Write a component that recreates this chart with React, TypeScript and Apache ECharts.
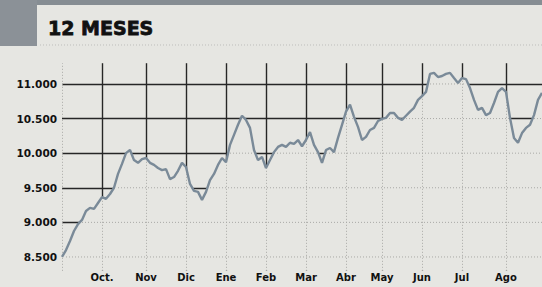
import React, { useEffect, useRef } from "react";
import * as echarts from "echarts";

// Index level, sampled every few sessions, one array per month
const sep = [8500, 8600, 8730, 8875, 8975, 9035, 9165, 9210, 9195, 9280];
const oct = [9365, 9340, 9410, 9500, 9700, 9845, 10000, 10045, 9900, 9860, 9915];
const nov = [9930, 9860, 9830, 9785, 9755, 9770, 9625, 9655, 9745, 9860];
const dic = [9800, 9555, 9455, 9440, 9325, 9440, 9610, 9700, 9830, 9930];
const ene = [9870, 10120, 10265, 10410, 10540, 10480, 10365, 10045, 9900, 9945];
const feb = [9785, 9900, 10015, 10090, 10120, 10090, 10150, 10135, 10190, 10100];
const mar = [10190, 10305, 10120, 10015, 9860, 10045, 10075, 10015, 10220, 10410];
const abr = [10600, 10700, 10525, 10380, 10190, 10235, 10335, 10365, 10465];
const may = [10495, 10510, 10580, 10580, 10510, 10480, 10540, 10600, 10655, 10770];
const jun = [10825, 10885, 11145, 11160, 11100, 11115, 11145, 11160, 11085, 11015];
const jul = [11085, 11070, 10940, 10770, 10625, 10655, 10550, 10580, 10725, 10885, 10940];
const ago = [10885, 10510, 10220, 10150, 10290, 10365, 10410, 10550, 10770, 10870];

const monthSeries = [sep, oct, nov, dic, ene, feb, mar, abr, may, jun, jul, ago];
const monthLabels = ["", "Oct.", "Nov", "Dic", "Ene", "Feb", "Mar", "Abr", "May", "Jun", "Jul", "Ago"];
const yTicks = [8500, 9000, 9500, 10000, 10500, 11000];
const yMin = 8300;
const yMax = 11300;
const title = "12 MESES";

const BG = "#e6e6e2";
const DARK = "#262626";
const LIGHT = "#a9a9a6";
const CURVE = "#7a8a98";

export default function App() {
  const ref = useRef<HTMLDivElement>(null);
  useEffect(() => {
    const chart = echarts.init(ref.current!, null, { renderer: "svg" });

    const values: number[] = [];
    const categories: string[] = [];
    const monthStarts: number[] = [];
    monthSeries.forEach((arr, m) => {
      monthStarts.push(values.length);
      arr.forEach((v, k) => {
        values.push(v);
        categories.push(`${m}-${k}`);
      });
    });
    const startSet = new Set(monthStarts.filter((i) => i > 0));

    const fmt = (v: number) =>
      `${Math.floor(v / 1000)}.${String(v % 1000).padStart(3, "0")}`;

    const darkLines: any[] = [
      ...yTicks.map((L) => ({ yAxis: L })),
      ...monthStarts
        .filter((i) => i > 0)
        .map((i) => [{ coord: [categories[i], yMin] }, { coord: [categories[i], yMax] }]),
    ];
    const lightVertical: any[] = [
      [{ coord: [categories[0], yMin] }, { coord: [categories[0], yMax] }],
      ...monthStarts
        .filter((i) => i > 0)
        .map((i) => [{ coord: [categories[i], yMin] }, { coord: [categories[i], values[i]] }]),
    ];

    const lightHorizontal = yTicks.map((L) => ({
      type: "line",
      data: values.map((v) => (v > L ? L : null)),
      symbol: "none",
      silent: true,
      z: 3,
      connectNulls: false,
      lineStyle: { color: LIGHT, width: 1, type: [1, 2] },
      emphasis: { disabled: true },
    }));

    chart.setOption({
      animation: false,
      backgroundColor: BG,
      grid: { left: 62, right: 0, top: 63.2, bottom: 16.2, containLabel: false },
      xAxis: {
        type: "category",
        data: categories,
        boundaryGap: false,
        axisLine: { show: false },
        axisTick: { show: false },
        splitLine: { show: false },
        axisLabel: {
          interval: (index: number) => startSet.has(index),
          formatter: (value: string) => monthLabels[Number(value.split("-")[0])],
          color: "#111",
          fontFamily: "DejaVu Sans",
          fontWeight: "bold",
          fontSize: 10,
          margin: 2,
        },
      },
      yAxis: {
        type: "value",
        min: yMin,
        max: yMax,
        splitNumber: 6,
        axisLine: { show: false },
        axisTick: { show: false },
        splitLine: { show: false },
        axisLabel: {
          showMinLabel: false,
          showMaxLabel: false,
          formatter: (v: number) => (yTicks.includes(v) ? fmt(v) : ""),
          color: "#111",
          fontFamily: "DejaVu Sans",
          fontWeight: "bold",
          fontSize: 10.5,
          margin: 5,
        },
      },
      graphic: [
        { type: "rect", shape: { x: 0, y: 0, width: 542, height: 5 }, style: { fill: "#868d93" }, z: 10 },
        { type: "rect", shape: { x: 0, y: 0, width: 37, height: 46 }, style: { fill: "#8b9197" }, z: 10 },
        {
          type: "line",
          shape: { x1: 40, y1: 45, x2: 542, y2: 45 },
          style: { stroke: "#bdbdbb", lineWidth: 1, lineDash: [1, 2] },
          z: 10,
        },
        {
          type: "text",
          x: 48,
          y: 27.5,
          style: {
            text: title,
            fill: "#111",
            font: "bold 19px 'DejaVu Sans'",
            verticalAlign: "middle",
            stroke: "#111",
            lineWidth: 0.8,
          },
          z: 10,
        },
      ],
      series: [
        {
          type: "line",
          data: values,
          symbol: "none",
          silent: true,
          z: 2,
          lineStyle: { width: 0, opacity: 0 },
          areaStyle: { color: BG, opacity: 1, origin: "start" },
          emphasis: { disabled: true },
          markLine: {
            z: 1,
            silent: true,
            symbol: ["none", "none"],
            label: { show: false },
            lineStyle: { color: DARK, width: 1.4, type: "solid" },
            emphasis: { disabled: true },
            data: darkLines,
          },
        },
        ...lightHorizontal,
        {
          type: "line",
          data: values,
          symbol: "none",
          silent: true,
          z: 4,
          lineStyle: { color: CURVE, width: 2.4 },
          emphasis: { disabled: true },
          markLine: {
            z: 3,
            silent: true,
            symbol: ["none", "none"],
            label: { show: false },
            lineStyle: { color: LIGHT, width: 1, type: [1, 2] },
            emphasis: { disabled: true },
            data: lightVertical,
          },
        },
      ],
    });
    return () => chart.dispose();
  }, []);
  return (
    <div
      ref={ref}
      style={{ position: "fixed", left: 0, top: 0, width: 542, height: 287 }}
    />
  );
}
